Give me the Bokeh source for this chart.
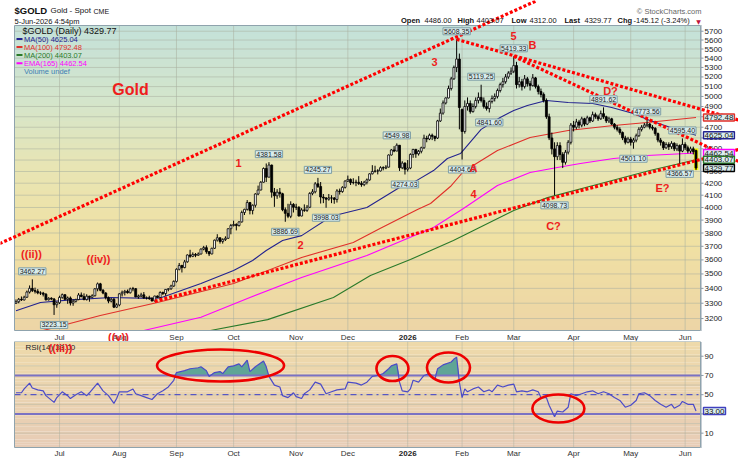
import numpy as np
from bokeh.plotting import figure
from bokeh.models import Range1d
from bokeh.layouts import column
from bokeh.embed import file_html
from bokeh.resources import INLINE
from bokeh.core.properties import value

# ---------------------------------------------------------------- data
# x = trading-day index (0 = 6-Jun-2025 ... 250 = 5-Jun-2026)
month_idx = [16, 38, 59, 80, 103, 122, 144, 164, 183, 205, 226, 246]
month_lbl = ["Jul", "Aug", "Sep", "Oct", "Nov", "Dec", "2026", "Feb", "Mar", "Apr", "May", "Jun"]
price_ticks = list(range(3200, 5800, 100))
rsi_ticks = [90, 70, 50, 10]
rsi_grid = [10, 20, 30, 40, 50, 60, 70, 80, 90]

opens = [
    3300, 3310, 3326, 3322, 3340, 3375, 3400, 3385, 3380, 3369, 3368, 3360, 3323, 3333, 3328, 3290,
    3303, 3339, 3357, 3326, 3335, 3301, 3313, 3324, 3355, 3344, 3324, 3347, 3339, 3350, 3397, 3431, 3387, 3368, 3337, 3314, 3326, 3274,
    3289, 3363, 3373, 3380, 3370, 3397, 3398, 3342, 3348, 3356, 3335, 3336, 3332, 3315, 3348, 3338, 3372, 3365, 3393, 3397, 3416,
    3448, 3533, 3560, 3545, 3586, 3636, 3626, 3640, 3634, 3643, 3679, 3690, 3660, 3644, 3685, 3746, 3764, 3736, 3750, 3760, 3833,
    3858, 3866, 3857, 3886, 3960, 3985, 4040, 3976, 4018, 4110, 4143, 4208, 4326, 4251, 4356, 4125, 4095, 4125, 4112, 3982, 3953, 3930, 4025,
    4002, 4002, 3932, 3980, 3977, 4002, 4115, 4128, 4195, 4172, 4085, 4077, 4067, 4078, 4077, 4065, 4135, 4130, 4165,
    4218, 4232, 4205, 4207, 4208, 4197, 4188, 4208, 4228, 4280, 4300, 4305, 4305, 4333, 4330, 4338, 4445, 4490, 4480, 4533, 4332, 4373,
    4319, 4330, 4450, 4495, 4455, 4478, 4510, 4597, 4590, 4625, 4615, 4600, 4760, 4835, 4935, 4985, 5080, 5180, 5300, 5390,
    4870, 4660, 4900, 4930, 4850, 4900, 4960, 4990, 4960, 4900, 4880, 4950, 4980, 5000, 5060, 5120, 5150, 5200, 5240,
    5260, 5320, 5120, 5150, 5100, 5180, 5130, 5110, 5190, 5100, 5050, 5020, 4960, 4800, 4600, 4500, 4430, 4530, 4450, 4380, 4470, 4560,
    4720, 4700, 4750, 4720, 4780, 4730, 4790, 4760, 4820, 4800, 4780, 4830, 4800, 4760, 4780, 4730, 4700, 4680, 4650, 4600, 4560,
    4590, 4560, 4580, 4620, 4680, 4700, 4720, 4730, 4700, 4690, 4640, 4580, 4560, 4510, 4540, 4520, 4550, 4500, 4530, 4480,
    4540, 4510, 4480, 4500, 4486.00,
]
highs = [
    3325, 3335, 3345, 3350, 3385, 3420, 3462.27, 3405, 3395, 3380, 3376, 3368, 3340, 3340, 3335, 3310,
    3350, 3365, 3360, 3345, 3345, 3325, 3330, 3368, 3372, 3366, 3360, 3350, 3360, 3402, 3440, 3438, 3395, 3375, 3345, 3335, 3335, 3300,
    3368, 3385, 3390, 3392, 3405, 3410, 3402, 3358, 3370, 3375, 3345, 3350, 3340, 3350, 3352, 3380, 3378, 3395, 3402, 3425, 3455,
    3540, 3578, 3565, 3600, 3640, 3674, 3655, 3650, 3655, 3685, 3703, 3707, 3665, 3690, 3750, 3791, 3765, 3760, 3775, 3835, 3870,
    3895, 3875, 3890, 3975, 3990, 4060, 4045, 4025, 4116, 4180, 4218, 4335, 4370, 4381.58, 4360, 4160, 4150, 4160, 4120, 4000, 4030, 4050, 4035,
    4030, 4010, 3995, 4025, 4020, 4125, 4150, 4210, 4245.27, 4210, 4110, 4085, 4110, 4100, 4085, 4150, 4155, 4175, 4225,
    4265, 4240, 4242, 4230, 4260, 4218, 4220, 4240, 4285, 4355, 4350, 4320, 4345, 4345, 4355, 4450, 4498, 4525, 4549.98, 4535, 4390, 4380,
    4400, 4460, 4500, 4500, 4490, 4520, 4630, 4620, 4640, 4640, 4620, 4770, 4880, 4960, 4990, 5110, 5200, 5320, 5608.35, 5450,
    4880, 4960, 4990, 4960, 4930, 4990, 5040, 5119.25, 4990, 4940, 4960, 5010, 5030, 5080, 5140, 5190, 5230, 5260, 5300,
    5419.33, 5360, 5200, 5180, 5220, 5200, 5160, 5230, 5200, 5120, 5080, 5040, 4980, 4830, 4650, 4560, 4560, 4560, 4470, 4490, 4580, 4740,
    4760, 4780, 4770, 4800, 4790, 4810, 4800, 4850, 4840, 4820, 4860, 4891.62, 4810, 4800, 4790, 4740, 4720, 4700, 4660, 4620, 4610,
    4610, 4600, 4640, 4700, 4720, 4740, 4773.56, 4740, 4720, 4700, 4650, 4600, 4570, 4560, 4560, 4570, 4560, 4550, 4540, 4595.40,
    4560, 4530, 4520, 4520, 4493.00,
]
lows = [
    3295, 3300, 3315, 3318, 3335, 3365, 3375, 3365, 3360, 3355, 3345, 3318, 3318, 3320, 3223.15, 3270,
    3295, 3330, 3320, 3296, 3285, 3283, 3305, 3320, 3340, 3320, 3318, 3310, 3335, 3345, 3380, 3380, 3360, 3325, 3300, 3305, 3268, 3268,
    3280, 3345, 3352, 3365, 3365, 3380, 3340, 3330, 3340, 3330, 3325, 3322, 3312, 3312, 3335, 3322, 3355, 3350, 3380, 3390, 3410,
    3440, 3525, 3510, 3540, 3580, 3615, 3620, 3620, 3630, 3640, 3670, 3645, 3628, 3640, 3680, 3735, 3720, 3720, 3740, 3755, 3790,
    3850, 3820, 3850, 3880, 3940, 3975, 3945, 3945, 4000, 4100, 4140, 4205, 4210, 4250, 4080, 4005, 4070, 4080, 3970, 3886.69, 3915, 3915, 3960,
    3980, 3928, 3930, 3965, 3965, 3995, 4100, 4115, 4160, 4032, 4035, 3998.03, 4055, 4035, 4030, 4040, 4105, 4120, 4155,
    4210, 4185, 4190, 4175, 4185, 4170, 4175, 4190, 4220, 4275, 4290, 4275, 4300, 4310, 4320, 4335, 4440, 4470, 4480, 4305, 4320, 4274.03,
    4300, 4320, 4420, 4420, 4440, 4460, 4500, 4560, 4580, 4580, 4570, 4590, 4750, 4820, 4920, 4980, 5060, 5170, 5250, 4680,
    4404.68, 4640, 4860, 4830, 4840, 4880, 4930, 4940, 4880, 4860, 4841.60, 4930, 4950, 4980, 5040, 5090, 5130, 5180, 5220,
    5240, 5080, 5090, 5060, 5080, 5100, 5060, 5100, 5080, 5020, 4990, 4940, 4780, 4580, 4450, 4098.73, 4400, 4400, 4330, 4360, 4450, 4540,
    4660, 4680, 4690, 4700, 4710, 4720, 4740, 4750, 4780, 4760, 4770, 4780, 4740, 4740, 4720, 4680, 4660, 4630, 4580, 4540, 4550,
    4530, 4501.10, 4560, 4610, 4660, 4690, 4700, 4680, 4670, 4620, 4560, 4530, 4490, 4500, 4490, 4500, 4480, 4480, 4366.57, 4470,
    4490, 4460, 4460, 4450, 4312.00,
]
closes = [
    3310, 3326, 3322, 3340, 3375, 3400, 3385, 3380, 3369, 3368, 3360, 3323, 3333, 3328, 3290, 3303,
    3339, 3357, 3326, 3335, 3301, 3313, 3324, 3355, 3344, 3324, 3347, 3339, 3350, 3397, 3431, 3387, 3368, 3337, 3314, 3326, 3274, 3289,
    3363, 3373, 3380, 3370, 3397, 3398, 3342, 3348, 3356, 3335, 3336, 3332, 3315, 3348, 3338, 3372, 3365, 3393, 3397, 3416, 3448,
    3533, 3560, 3545, 3586, 3636, 3626, 3640, 3634, 3643, 3679, 3690, 3660, 3644, 3685, 3746, 3764, 3736, 3750, 3760, 3833, 3858,
    3866, 3857, 3886, 3960, 3985, 4040, 3976, 4018, 4110, 4143, 4208, 4326, 4251, 4356, 4125, 4095, 4125, 4112, 3982, 3953, 3930, 4025, 4002,
    4002, 3932, 3980, 3977, 4002, 4115, 4128, 4195, 4172, 4085, 4077, 4067, 4078, 4077, 4065, 4135, 4130, 4165, 4218,
    4232, 4205, 4207, 4208, 4197, 4188, 4208, 4228, 4280, 4300, 4305, 4305, 4333, 4330, 4338, 4445, 4490, 4480, 4533, 4332, 4373, 4319,
    4330, 4450, 4495, 4455, 4478, 4510, 4597, 4590, 4625, 4615, 4595, 4760, 4835, 4935, 4985, 5080, 5180, 5300, 5390, 4890,
    4660, 4900, 4930, 4850, 4900, 4960, 4990, 4960, 4900, 4880, 4950, 4980, 5000, 5060, 5120, 5150, 5200, 5240, 5260,
    5320, 5120, 5150, 5100, 5180, 5130, 5110, 5190, 5100, 5050, 5020, 4960, 4800, 4600, 4500, 4430, 4530, 4450, 4380, 4470, 4560, 4720,
    4700, 4750, 4720, 4780, 4730, 4790, 4760, 4820, 4800, 4780, 4830, 4800, 4760, 4780, 4730, 4700, 4680, 4650, 4600, 4560, 4590,
    4560, 4580, 4620, 4680, 4700, 4720, 4730, 4700, 4690, 4640, 4580, 4560, 4510, 4540, 4520, 4550, 4500, 4530, 4480, 4540,
    4510, 4480, 4500, 4475, 4329.77,
]

# moving averages (day index, value)
ma50_x = [0, 9, 20, 35, 49, 53, 68, 80, 87, 92, 98, 105, 116, 129, 141, 146, 153.5, 158.6, 163.4, 171, 178, 183, 188, 195, 203, 212, 219, 227, 233, 244, 250]
ma50_y = [3250, 3305, 3322, 3338, 3332, 3335, 3433, 3524, 3596, 3669, 3743, 3780, 3930, 4000, 4164, 4205, 4308, 4414, 4458, 4680, 4793, 4861, 4910, 4959, 4940, 4930, 4890, 4831, 4764, 4669, 4625.04]
ma100_x = [10, 31, 52, 80, 105, 124, 134, 147.6, 152.4, 159.7, 164.5, 177, 189, 203, 219.7, 232, 250]
ma100_y = [3124, 3220, 3305, 3433, 3618, 3728, 3836, 3984, 4032, 4172, 4300, 4485, 4604, 4669, 4716, 4745, 4792.48]
ma200_x = [71.5, 92.5, 116.7, 130.3, 145, 160.8, 183, 195.4, 215, 233, 250]
ma200_y = [3124, 3193, 3338, 3489, 3603, 3743, 3976, 4080, 4197, 4308, 4403.07]
ema165_x = [47, 68, 86, 105, 129, 153.5, 164.5, 177, 189, 199, 207.5, 219.7, 232, 250]
ema165_y = [3124, 3208, 3338, 3475, 3632, 3842, 3992, 4181, 4291, 4335, 4369, 4414, 4440, 4462.54]

# RSI(14)
rsi_x = [0, 2, 3, 5, 6, 8, 10, 11, 14, 15, 17, 19, 20, 22, 24, 26, 27, 30, 32, 34,
         36, 37, 38, 41, 43, 44, 46, 48, 50, 52, 54, 56, 58, 59, 62, 64, 67, 68, 70, 71,
         73, 75, 76, 78, 80, 82, 83, 85, 86, 88, 91, 92, 93, 95, 97, 98, 100, 102, 103, 105,
         106, 108, 110, 112, 114, 116, 118, 121, 122, 125, 127, 129, 131, 133, 135, 137, 138, 140, 141, 142,
         144, 145, 146, 148, 150, 152, 154, 155, 157, 160, 161, 162, 163, 164, 165, 166, 168, 170, 172, 174,
         175, 177, 179, 181, 183, 184, 186, 188, 190, 192, 193, 195, 196, 198, 199, 201, 203, 204, 206, 208,
         210, 212, 214, 216, 218, 220, 222, 224, 226, 228, 229, 231, 233, 235, 237, 239, 241, 242, 244, 245,
         247, 249, 250]
rsi_y = [52, 52, 56, 62, 57, 55, 54, 49, 42, 47, 53, 49, 46, 50, 53, 49, 52, 62, 54, 49,
         41, 46, 53, 53, 56, 51, 49, 47, 45, 51, 54, 58, 65, 73, 75, 77, 78, 79, 75, 69,
         73, 74, 72, 79, 80, 82, 79, 86, 74, 79, 85, 79, 69, 60, 58, 49, 47, 52, 48, 46,
         51, 55, 63, 61, 51, 53, 55, 56, 63, 62, 60, 63, 69, 70, 72, 77, 80, 82, 63, 54,
         53, 56, 65, 63, 70, 72, 66, 77, 81, 84, 87, 89, 63, 47, 56, 53, 56, 58, 53, 55,
         53, 60, 58, 60, 61, 53, 54, 53, 55, 53, 47, 47, 39, 27, 33, 32, 37, 51, 49, 51,
         53, 54, 51, 53, 51, 47, 44, 37, 39, 44, 51, 52, 49, 44, 40, 37, 40, 36, 39, 43,
         40, 40, 33]

# annotated highs / lows
hi_lbl_idx = [6, 93, 111, 140, 162, 171, 183, 216, 232, 245]
hi_lbl_val = [3462.27, 4381.58, 4245.27, 4549.98, 5608.35, 5119.25, 5419.33, 4891.62, 4773.56, 4595.40]
lo_lbl_idx = [14, 99, 114, 143, 164, 174, 198, 227, 244]
lo_lbl_val = [3223.15, 3886.69, 3998.03, 4274.03, 4404.68, 4841.60, 4098.73, 4501.10, 4366.57]

# trend lines (day index, price)
trend_up_x, trend_up_y = [-6, 191], [3720, 6055]
trend_a_x, trend_a_y = [162, 266], [5608.35, 4766]
trend_b_x, trend_b_y = [183, 266], [5419.33, 4384]
trend_c_x, trend_c_y = [51, 266], [3312, 4496]

# RSI ellipses (centre in data, size in px)
ell_x = [75.2, 138.4, 159.0, 199.4]
ell_y = [80.3, 77.2, 78.2, 35.6]
ell_w = [127, 32, 43, 52]
ell_h = [32, 25, 30, 28]

assert len(opens) == len(highs) == len(lows) == len(closes) == 251
assert len(rsi_x) == len(rsi_y)

# ---------------------------------------------------------------- page geometry
W = 738
FL, FR = 14, 700          # panel left / right (page px)
MT, MB = 25, 330          # price panel top / bottom
RT, RB = 341, 447         # rsi panel top / bottom
H_MAIN, H_RSI = 341, 120
X0, X1 = -0.55, 251.65    # day index at panel edges
Y0, Y1 = 3124, 5766       # price at panel edges
R0, R1 = -4.9, 105.3      # rsi at panel edges
LN0, LN1 = np.log(Y0), np.log(Y1)


def mx(px):
    return X0 + (px - FL) * (X1 - X0) / (FR - FL)


def my(py):
    return float(np.exp(LN1 - (py - MT) * (LN1 - LN0) / (MB - MT)))


def ry(py):
    return R1 - (py - RT) * (R1 - R0) / (RB - RT)


C_MA50, C_MA100, C_MA200, C_EMA = "#23238f", "#e0302a", "#2a7a2a", "#ff00ff"
RED = "#ee1d1d"
FONT = "Liberation Sans"
GRID = "#a9b0a0"
AXC = "#8a9aa8"


def lerp_colors(stops, fracs):
    out = []
    for f in fracs:
        for (f0, c0), (f1, c1) in zip(stops[:-1], stops[1:]):
            if f0 <= f <= f1:
                t = (f - f0) / (f1 - f0)
                rgb = [int(round(a + (b - a) * t)) for a, b in zip(c0, c1)]
                out.append("#%02x%02x%02x" % tuple(rgb))
                break
    return out


def T(fig, fy, pts, texts, size=8, color="#222222", bold=False, align="left", font=FONT, **kw):
    fig.text(x=[mx(a) for a, b in pts], y=[fy(b) for a, b in pts], text=texts,
             text_font=value(font), text_font_size=f"{size}px", text_color=color,
             text_font_style="bold" if bold else "normal", text_align=align,
             text_baseline="middle", **kw)


def make_fig(h, yr, **kw):
    f = figure(width=W, height=h, x_range=Range1d(mx(0), mx(W)), y_range=yr, title=None,
               x_axis_location=None, y_axis_location=None, output_backend="svg",
               toolbar_location=None, min_border=0, min_border_left=0, min_border_right=0,
               min_border_top=0, min_border_bottom=0, **kw)
    f.grid.visible = False
    f.background_fill_color = "white"
    f.border_fill_color = "white"
    f.outline_line_color = None
    return f


# ---------------------------------------------------------------- price panel
p = make_fig(H_MAIN, Range1d(my(H_MAIN), my(0)), y_axis_type="log")

nb = 70
edges = np.geomspace(Y0, Y1, nb + 1)
fr_top = 1 - (np.arange(nb) + 0.5) / nb
bg_main = lerp_colors([(0.0, (196, 225, 217)), (0.25, (212, 229, 203)), (0.45, (231, 229, 181)),
                       (0.7, (240, 225, 163)), (1.0, (237, 213, 166))], fr_top)
tops = np.minimum(edges[1:] * 1.0015, Y1)
p.quad(left=X0, right=X1, bottom=edges[:-1], top=tops, fill_color=bg_main, line_color=None)

# grid
p.segment(x0=X0, x1=X1, y0=price_ticks, y1=price_ticks, line_color=GRID, line_alpha=0.55, line_width=1)
p.segment(x0=month_idx, x1=month_idx, y0=Y0, y1=Y1, line_color=GRID, line_alpha=0.55, line_width=1)

# right axis: line, ticks, labels
p.segment(x0=mx(FR + 1), x1=mx(FR + 1), y0=Y0, y1=Y1, line_color=AXC, line_width=1, line_dash="1 1")
p.segment(x0=mx(FR), x1=mx(FR + 3), y0=price_ticks, y1=price_ticks, line_color=AXC, line_width=1)
p.text(x=mx(FR + 4), y=price_ticks, text=[str(t) for t in price_ticks], text_font=value(FONT),
       text_font_size="8px", text_color="#222222", text_baseline="middle", text_align="left")
# month labels
p.text(x=month_idx, y=my(337), text=[m if m != "2026" else "" for m in month_lbl], text_font=value(FONT),
       text_font_size="8px", text_color="#333333", text_baseline="middle", text_align="center")
p.text(x=[month_idx[month_lbl.index("2026")]], y=my(337), text=["2026"], text_font=value(FONT),
       text_font_size="8px", text_font_style="bold", text_color="#222222", text_baseline="middle",
       text_align="center")

# moving averages
p.line(ma200_x, ma200_y, color=C_MA200, line_width=1.1)
p.line(ema165_x, ema165_y, color=C_EMA, line_width=1.1)
p.line(ma100_x, ma100_y, color=C_MA100, line_width=1.1)
p.line(ma50_x, ma50_y, color=C_MA50, line_width=1.1)

# candles
idx = np.arange(len(closes))
o, h, l, c = map(np.array, (opens, highs, lows, closes))
up = c >= o
p.vbar(x=idx[-1:], top=o[-1:] * 1.004, bottom=c[-1:] * 0.996, width=1.6, fill_color="#ffff00", line_color=None)
p.segment(idx, h, idx, l, color="black", line_width=1)
p.vbar(x=idx[up], top=c[up], bottom=o[up], width=0.72, fill_color="white", line_color="black", line_width=0.8)
p.vbar(x=idx[~up], top=o[~up], bottom=c[~up], width=0.72, fill_color="black", line_color="black", line_width=0.8)

# panel outline
p.quad(left=X0, right=X1, bottom=Y0, top=Y1, fill_color=None, line_color="#8fa3ad", line_width=1)

# trend lines
for tx, ty in ((trend_up_x, trend_up_y), (trend_a_x, trend_a_y), (trend_b_x, trend_b_y), (trend_c_x, trend_c_y)):
    p.line(tx, ty, color="#ff0000", line_width=3.2, line_dash="3 2")

# price labels at highs / lows
box = dict(text_font=value(FONT), text_font_size="7px", text_color="#222222", text_align="center",
           text_baseline="middle", background_fill_color="#d8ecec", border_line_color="#7f9fa6",
           border_line_width=1, padding=1)
p.text(x=hi_lbl_idx, y=hi_lbl_val, text=[f"{v:.2f}" for v in hi_lbl_val], y_offset=-8, **box)
p.text(x=lo_lbl_idx, y=lo_lbl_val, text=[f"{v:.2f}" for v in lo_lbl_val], y_offset=10, **box)

# last-value boxes on the right axis
for v, col in ((ma100_y[-1], C_MA100), (ma50_y[-1], C_MA50), (ema165_y[-1], C_EMA),
               (ma200_y[-1], C_MA200), (closes[-1], "#000000")):
    p.text(x=[mx(FR + 3)], y=[v], text=[f"{v:.2f}"], text_font=value(FONT), text_font_size="8px",
           text_color="#111111", text_baseline="middle", text_align="left",
           background_fill_color="#dcefef", border_line_color=col, border_line_width=1.4, padding=1)

# header
T(p, my, [(14, 9.5)], ["$GOLD"], size=9.5, bold=True, color="#111111")
T(p, my, [(50, 10)], ["Gold - Spot"], size=8, color="#111111")
T(p, my, [(93, 10.5)], ["CME"], size=7, color="#111111")
T(p, my, [(14, 20.5)], ["5-Jun-2026 4:54pm"], size=7.5, color="#111111")
T(p, my, [(701, 10.5)], ["© StockCharts.com"], size=7.5, color="#666666", align="right")
T(p, my, [(400.5, 20), (457, 20), (511, 20), (564, 20), (617, 20)], ["Open", "High", "Low", "Last", "Chg"],
  size=7.5, bold=True, color="#111111")
T(p, my, [(424, 20), (476, 20), (529, 20), (584, 20), (633, 20)],
  ["4486.00", "4403.07", "4312.00", "4329.77", "-145.12 (-3.24%)"], size=7.5, color="#111111")
T(p, my, [(698, 20.5)], ["▼"], size=6, color="#c0143c", align="center", font="DejaVu Sans")

# legend
T(p, my, [(22, 30)], ["$GOLD (Daily) 4329.77"], size=9, color="#111111")
leg_y = [38.5, 46.5, 54.5, 62.8]
leg_c = [C_MA50, C_MA100, C_MA200, C_EMA]
p.segment(x0=mx(16), x1=mx(22), y0=[my(v) for v in leg_y], y1=[my(v) for v in leg_y], line_color=leg_c, line_width=2)
for cy, t, col in zip(leg_y + [71.3], ["MA(50) 4625.04", "MA(100) 4792.48", "MA(200) 4403.07",
                                      "EMA(165) 4462.54", "Volume undef"], leg_c + ["#3f7fb4"]):
    T(p, my, [(23.5, cy)], [t], size=7.5, color=col)

# wave annotations
T(p, my, [(130, 89)], ["Gold"], size=16, bold=True, color=RED, align="center")
wave_pts = [(238, 162), (300, 244), (434, 61), (473, 193), (513, 35), (473, 167), (532, 44), (553, 225),
            (610, 90), (662, 187), (31, 253), (98, 258), (118, 336)]
wave_txt = ["1", "2", "3", "4", "5", "A", "B", "C?", "D?", "E?", "((ii))", "((iv))", "((v))"]
T(p, my, wave_pts, wave_txt, size=11, bold=True, color=RED, align="center")

# ---------------------------------------------------------------- RSI panel
r = make_fig(H_RSI, Range1d(ry(RT + H_RSI), ry(RT)))

nr = 40
redges = np.linspace(R0, R1, nr + 1)
rfr = 1 - (np.arange(nr) + 0.5) / nr
bg_rsi = lerp_colors([(0.0, (238, 218, 170)), (1.0, (231, 204, 182))], rfr)
r.quad(left=X0, right=X1, bottom=redges[:-1], top=np.minimum(redges[1:] + 0.05, R1), fill_color=bg_rsi, line_color=None)

r.segment(x0=X0, x1=X1, y0=rsi_grid, y1=rsi_grid, line_color=GRID, line_alpha=0.45, line_width=1)
r.segment(x0=month_idx, x1=month_idx, y0=R0, y1=R1, line_color=GRID, line_alpha=0.45, line_width=1)
r.segment(x0=mx(FR + 1), x1=mx(FR + 1), y0=R0, y1=R1, line_color=AXC, line_width=1, line_dash="1 1")
r.segment(x0=mx(FR), x1=mx(FR + 3), y0=rsi_ticks + [30], y1=rsi_ticks + [30], line_color=AXC, line_width=1)
r.text(x=mx(FR + 4), y=rsi_ticks, text=[str(t) for t in rsi_ticks], text_font=value(FONT),
       text_font_size="8px", text_color="#222222", text_baseline="middle", text_align="left")
r.text(x=month_idx, y=ry(453), text=[m if m != "2026" else "" for m in month_lbl], text_font=value(FONT),
       text_font_size="8px", text_color="#333333", text_baseline="middle", text_align="center")
r.text(x=[month_idx[month_lbl.index("2026")]], y=ry(453), text=["2026"], text_font=value(FONT),
       text_font_size="8px", text_font_style="bold", text_color="#222222", text_baseline="middle",
       text_align="center")

rx, rv = np.array(rsi_x, dtype=float), np.array(rsi_y, dtype=float)
r.varea(x=rx, y1=np.full(len(rx), 70.0), y2=np.maximum(rv, 70.0), fill_color="#5fa596")
r.segment(x0=X0, x1=X1, y0=[70, 30], y1=[70, 30], line_color="#7a72c4", line_width=2)
r.segment(x0=X0, x1=X1, y0=50, y1=50, line_color="#3a3ac8", line_width=1, line_dash="dashdot")
r.line(rx, rv, color="#4b4bc8", line_width=1.2)
r.quad(left=X0, right=X1, bottom=R0, top=R1, fill_color=None, line_color="#8fa3ad", line_width=1)
r.ellipse(x=ell_x, y=ell_y, width=ell_w, height=ell_h, width_units="screen", height_units="screen",
          fill_color=None, line_color="#ee0000", line_width=2.6)

r.text(x=[mx(FR + 3)], y=[rsi_y[-1]], text=[f"{rsi_y[-1]:.2f}"], text_font=value(FONT), text_font_size="8px",
       text_color="#111111", text_baseline="middle", text_align="left",
       background_fill_color="#dcefef", border_line_color="#4040c0", border_line_width=1.4, padding=1)
T(r, ry, [(25, 346.5)], [f"RSI(14) {rsi_y[-1]:.2f}"], size=8, color="#222222")
T(r, ry, [(60, 347.5)], ["((iii))"], size=11, bold=True, color=RED, align="center")

layout = column(p, r, spacing=0)
open("out.html", "w").write(file_html(layout, INLINE))
